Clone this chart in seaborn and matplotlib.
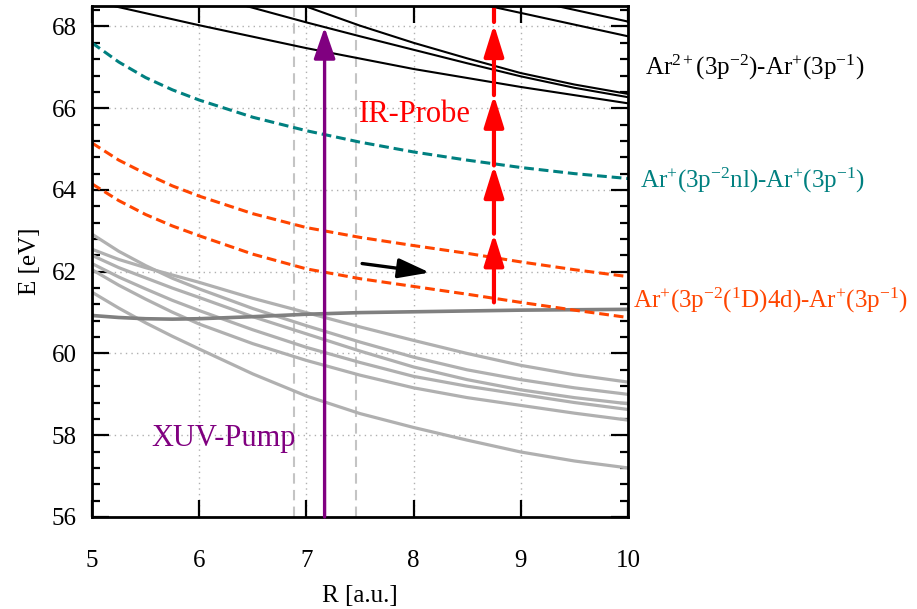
import numpy as np
import pandas as pd
import matplotlib
matplotlib.use("Agg")
import matplotlib.pyplot as plt
from matplotlib.ticker import MultipleLocator
import seaborn as sns

# Potential energy curves (R in a.u., E in eV)
R = [5.0, 5.25, 5.5, 5.75, 6.0, 6.5, 7.0, 7.5, 8.0, 8.5, 9.0, 9.5, 10.0]

# Ar+(3p-1) - Ar+(3p-1) type states (light grey)
grey_1 = [62.55, 62.30, 62.10, 61.92, 61.74, 61.35, 61.00, 60.65, 60.32, 60.00, 59.71, 59.48, 59.30]
grey_2 = [62.92, 62.50, 62.15, 61.84, 61.58, 61.10, 60.68, 60.28, 59.91, 59.60, 59.36, 59.16, 59.00]
grey_3 = [62.40, 62.10, 61.85, 61.60, 61.37, 60.90, 60.48, 60.06, 59.67, 59.36, 59.11, 58.92, 58.77]
grey_4 = [62.20, 61.87, 61.58, 61.30, 61.05, 60.58, 60.15, 59.78, 59.44, 59.20, 59.00, 58.80, 58.63]
grey_5 = [62.05, 61.67, 61.33, 61.01, 60.72, 60.24, 59.83, 59.47, 59.16, 58.92, 58.73, 58.54, 58.37]
grey_6 = [61.50, 61.11, 60.75, 60.42, 60.11, 59.50, 58.96, 58.53, 58.19, 57.88, 57.59, 57.37, 57.20]
grey_flat = [60.93, 60.88, 60.85, 60.84, 60.85, 60.90, 60.96, 61.00, 61.02, 61.04, 61.06, 61.07, 61.08]

# dashed curves
teal_nl = [67.60, 67.13, 66.75, 66.45, 66.20, 65.78, 65.45, 65.17, 64.93, 64.73, 64.55, 64.40, 64.28]
orange_up = [65.15, 64.73, 64.40, 64.10, 63.85, 63.42, 63.08, 62.84, 62.64, 62.45, 62.24, 62.05, 61.88]
orange_low = [64.15, 63.74, 63.40, 63.12, 62.88, 62.43, 62.07, 61.83, 61.64, 61.45, 61.25, 61.06, 60.88]

# Ar2+ - Ar+ lines (black), each with own R points
black_R1 = [5.0, 6.0, 7.0, 8.0, 9.0, 10.0]
black_E1 = [68.62, 68.03, 67.47, 66.96, 66.52, 66.12]
black_R2 = [6.3, 7.0, 7.5, 8.0, 8.5, 9.0, 9.5, 10.0]
black_E2 = [68.60, 68.10, 67.76, 67.43, 67.10, 66.78, 66.50, 66.27]
black_R3 = [6.9, 7.5, 8.0, 8.5, 9.0, 9.5, 10.0]
black_E3 = [68.58, 68.02, 67.60, 67.22, 66.86, 66.58, 66.35]
black_R4 = [8.6, 10.0]
black_E4 = [68.56, 67.76]
black_R5 = [9.25, 10.0]
black_E5 = [68.55, 68.12]

# Franck-Condon window and arrows
fc_window = [6.88, 7.46]
xuv_R = 7.17
xuv_E = [56.0, 67.98]
ir_R = 8.75
ir_E = [61.25, 62.93, 64.60, 66.32, 68.05]
shift_start = [7.52, 62.20]
shift_end = [8.15, 61.98]

sns.set_style("ticks")
plt.rcParams['font.family'] = ['Liberation Serif', 'DejaVu Serif']
plt.rcParams['mathtext.fontset'] = 'custom'
plt.rcParams['mathtext.rm'] = 'Liberation Serif'
plt.rcParams['mathtext.it'] = 'Liberation Serif:italic'

fig = plt.figure(figsize=(9.17, 6.09), dpi=100)
ax = fig.add_axes([0.1003, 0.1511, 0.5845, 0.8390])

# light grey curves
for g in [grey_1, grey_2, grey_3, grey_4, grey_5, grey_6]:
    sns.lineplot(x=R, y=g, ax=ax, color='#b0b0b0', lw=2.3)
sns.lineplot(x=R, y=grey_flat, ax=ax, color='#808080', lw=2.6)

# dashed curves
dash = (0, (3.2, 1.6))
sns.lineplot(x=R, y=teal_nl, ax=ax, color='#008080', lw=2.2, linestyle=dash)
sns.lineplot(x=R, y=orange_up, ax=ax, color='#ff4500', lw=2.2, linestyle=dash)
sns.lineplot(x=R, y=orange_low, ax=ax, color='#ff4500', lw=2.2, linestyle=dash)

# black lines
for bx, by in [(black_R1, black_E1), (black_R2, black_E2), (black_R3, black_E3),
               (black_R4, black_E4), (black_R5, black_E5)]:
    sns.lineplot(x=bx, y=by, ax=ax, color='black', lw=1.5, sort=False)

# Franck-Condon region
for xv in fc_window:
    ax.axvline(xv, color='#c4c4c4', lw=1.5, linestyle=(0, (5, 3)), zorder=1)

# XUV pump arrow
ax.annotate('', xy=(xuv_R, xuv_E[1]), xytext=(xuv_R, xuv_E[0]),
            arrowprops=dict(arrowstyle='-|>,head_length=1.6,head_width=0.55',
                            color='#800080', lw=2.4, shrinkA=0, shrinkB=0,
                            mutation_scale=12))

# IR probe arrows
for e0, e1 in zip(ir_E[:-1], ir_E[1:]):
    ax.annotate('', xy=(ir_R, e1), xytext=(ir_R, e0),
                arrowprops=dict(arrowstyle='-|>,head_length=1.6,head_width=0.5',
                                color='red', lw=3, shrinkA=0, shrinkB=0,
                                mutation_scale=12))
ax.plot([ir_R, ir_R], [ir_E[-1] + 0.05, 69.0], color='red', lw=3)

# black arrow showing the wave packet motion
ax.annotate('', xy=tuple(shift_end), xytext=tuple(shift_start),
            arrowprops=dict(arrowstyle='-|>,head_length=1.6,head_width=0.5',
                            color='black', lw=2.4, shrinkA=0, shrinkB=0,
                            mutation_scale=12))

ax.text(7.49, 65.67, 'IR-Probe', color='red', fontsize=22, ha='left', va='baseline')
ax.text(5.556, 57.74, 'XUV-Pump', color='#800080', fontsize=22, ha='left', va='baseline')

ax.text(10.16, 66.82, r'Ar$^{2+}$(3p$^{-2}$)-Ar$^{+}$(3p$^{-1}$)', color='black',
        fontsize=18, ha='left', va='baseline', clip_on=False)
ax.text(10.11, 64.07, r'Ar$^{+}$(3p$^{-2}$nl)-Ar$^{+}$(3p$^{-1}$)', color='#008080',
        fontsize=18, ha='left', va='baseline', clip_on=False)
ax.text(10.05, 61.13, r'Ar$^{+}$(3p$^{-2}$($^{1}$D)4d)-Ar$^{+}$(3p$^{-1}$)', color='#ff4500',
        fontsize=18, ha='left', va='baseline', clip_on=False)

ax.set_xlim(5, 10)
ax.set_ylim(56, 68.5)
ax.xaxis.set_major_locator(MultipleLocator(1))
ax.yaxis.set_major_locator(MultipleLocator(2))
ax.yaxis.set_minor_locator(MultipleLocator(0.4))
ax.grid(True, which='major', color='#b0b0b0', lw=1, linestyle=(0, (1, 3)))

ax.tick_params(which='both', direction='in', top=True, right=True, width=1.6,
               labelsize=18, colors='black')
ax.tick_params(which='major', length=12)
ax.tick_params(which='minor', length=6)
ax.tick_params(axis='x', pad=24)
ax.tick_params(axis='y', pad=11)
for s in ax.spines.values():
    s.set_linewidth(2)
    s.set_color('black')

ax.set_xlabel('R [a.u.]', fontsize=18, labelpad=9, color='black')
ax.set_ylabel('E [eV]', fontsize=18, labelpad=8, color='black')

fig.savefig('out.png', dpi=100)
